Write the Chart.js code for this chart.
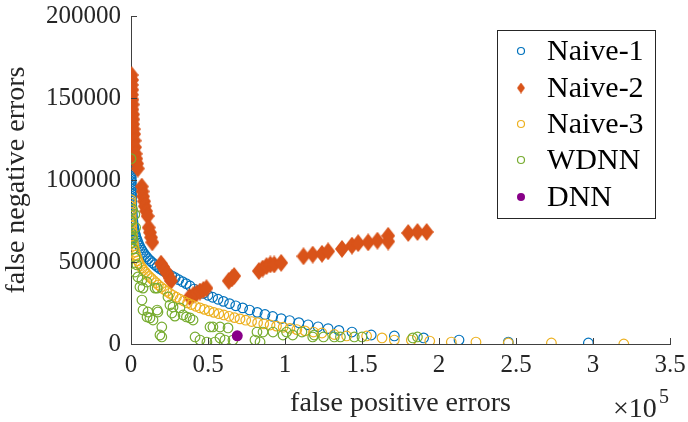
<!DOCTYPE html>
<html>
<head>
<meta charset="utf-8">
<script src="https://cdn.jsdelivr.net/npm/chart.js@4/dist/chart.umd.min.js"></script>
<style>
  html, body { margin: 0; padding: 0; background: #fff; }
  #wrap { width: 688px; height: 422px; position: relative; }
</style>
</head>
<body>
<div id="wrap"><canvas id="chart" width="688" height="422"></canvas></div>
<script>
"use strict";

// Series data: [false positives, false negatives]
const naive1 = [
  [0,114000],[0,112500],[0,111000],[0,109500],[50,108000],[50,106500],[100,105000],[100,103500],
  [150,102000],[150,100500],[200,99000],[200,97500],[250,96000],[300,94500],[300,93000],[350,91500],
  [400,90000],[400,88500],[450,87000],[500,85500],[550,84000],[600,82500],[700,81000],[800,79500],
  [900,78000],[1000,76500],[1200,75000],[1400,73500],[1600,72000],[1900,70500],[2200,69000],
  [2600,67500],[3000,66000],[3500,64500],[4100,63000],[4700,61500],[5400,60000],[6200,58500],
  [7000,57200],[7900,55900],[8900,54600],[10000,53300],[11200,52000],[12500,50800],[13900,49600],
  [15400,48400],[17000,47200],[18700,46000],[20500,44900],[22400,43800],[24400,42700],[26500,41600],
  [28700,40400],[31000,39200],[33400,38000],[35800,36800],[38300,35400],[41000,33500],[44000,32200],
  [47000,30900],[50000,29700],[53000,28500],[56500,27300],[60000,26000],[64000,24600],[68000,23300],
  [72500,22000],[77000,20700],[82000,19300],[87000,18000],[92000,16800],[97500,15500],[103000,14300],
  [109000,13000],[115000,11700],[121500,10500],[128000,9400],[135000,8300],[143500,7300],
  [156000,5500],[171000,4900],[190000,3700],[213000,2400],[245000,1200],[297000,600]
];

const naive2 = [
  [400,164000],[700,161000],[500,158000],[800,155000],[600,152000],[900,149000],[1100,146000],
  [900,143000],[1300,140000],[1500,137000],[1300,134000],[1700,131000],[2000,128000],[2300,124000],
  [2600,120000],[3000,116000],[3400,113000],[3900,110000],[4400,107000],[7000,96000],[7500,93000],
  [7800,90000],[8500,87000],[9000,84000],[9800,81000],[10800,78000],[11500,71000],[12300,68000],
  [13000,65000],[13800,62000],[19500,49000],[20800,47000],[22000,45000],[23500,43000],[25000,40500],
  [26000,38500],[38000,28700],[40500,29800],[42500,30800],[44800,32000],[47000,33000],[49000,34000],
  [63500,38500],[65500,40000],[67000,41500],[83000,44500],[85500,46000],[88000,47500],[90500,48500],
  [93000,48500],[97500,49500],[112000,53500],[118000,54500],[124000,55000],[128000,56500],
  [137000,58000],[143500,60000],[147500,61500],[154000,62000],[160000,63000],[167000,66000],
  [167000,62500],[180000,67700],[186000,68300],[192000,68300]
];

const naive3 = [
  [0,88000],[0,86000],[0,84000],[100,82000],[150,80000],[200,78000],[300,76000],[400,74000],
  [500,72000],[600,70000],[800,68000],[1000,66000],[1200,64000],[1500,62000],[1800,60000],
  [2200,58000],[2700,56000],[3200,54200],[3800,52500],[4500,50800],[5300,49200],[6200,47700],
  [7200,46300],[8200,45000],[9300,43800],[10500,42500],[11800,41200],[13200,40000],[14700,38700],
  [16200,37400],[17800,36000],[19500,34700],[21300,33400],[23200,32100],[25200,30900],[27300,29700],
  [29500,28500],[31800,27300],[34200,26200],[36700,25100],[39300,24000],[42000,23000],[44800,22000],
  [47700,21100],[50700,20200],[53800,19300],[57000,18500],[60300,17700],[63700,16900],[67200,16100],
  [70800,15300],[74500,14500],[78300,13700],[82200,13000],[86200,12300],[90300,11600],[94500,10900],
  [98800,10200],[103200,9500],[107700,8800],[113000,8000],[118500,7300],[124000,6700],[132000,5800],
  [140000,4900],[153000,4900],[163000,3700],[171000,2400],[182000,2400],[194000,1800],[208000,1200],
  [224000,1200],[245000,600],[273000,600],[320000,0]
];

const wdnn = [
  [0,113000],[1000,82000],[2500,79000],[0,67700],[500,65000],[1300,64000],[0,61500],[3000,71000],
  [0,75000],[1500,58000],[2600,52500],[3900,48200],[2600,43900],[4500,40900],[7100,39000],
  [5800,34800],[7800,34100],[10400,37800],[7100,26800],[15600,34100],[17000,34100],[7800,20700],
  [11000,19500],[12300,15900],[14300,14600],[17500,19500],[17000,20700],[10400,16500],[18800,5500],
  [24000,28700],[25300,23800],[27300,22600],[31800,22000],[26600,18900],[28500,17000],[33800,17700],
  [36000,16500],[38300,15900],[40300,14600],[20000,10400],[20000,4300],[41600,4300],[44800,2400],
  [49300,1200],[51300,10400],[53200,10400],[57800,10400],[54500,1200],[57800,3700],[61000,2400],
  [63000,9800],[66200,2400],[80500,2400],[81800,7300],[83800,1200],[85700,7300],[92200,7300],
  [98700,5500],[101000,7300],[105000,5500],[111000,7300],[118000,4300],[119000,5500],[125000,4300],
  [132000,4300],[136000,4300],[145000,4300],[150000,4300],[183000,3700],[186000,4300]
];

const dnn = [[69000,5000]];

const seriesNames = ["Naive-1", "Naive-2", "Naive-3", "WDNN", "DNN"];
const seriesColors = ["#0072BD", "#D95319", "#EDB120", "#77AC30", "#880088"];
const xTicks = [0, 50000, 100000, 150000, 200000, 250000, 300000, 350000];
const yTicks = [0, 50000, 100000, 150000, 200000];

const serif = '"Liberation Serif", "Times New Roman", serif';
const axisColor = "#404040";

function toPoints(list) {
  return list.map((p) => ({ x: p[0], y: p[1] }));
}

// MATLAB-like diamond (taller than wide)
function makeDiamond(w, h, color) {
  const c = document.createElement("canvas");
  c.width = w;
  c.height = h;
  const g = c.getContext("2d");
  g.fillStyle = color;
  g.beginPath();
  g.moveTo(w / 2, 0);
  g.lineTo(w, h / 2);
  g.lineTo(w / 2, h);
  g.lineTo(0, h / 2);
  g.closePath();
  g.fill();
  return c;
}
const diamond = makeDiamond(14, 18, seriesColors[1]);

// Inward tick marks, the x10^5 multiplier and the boxed legend
const matlabBits = {
  id: "matlabBits",
  afterDraw(chart) {
    const ctx = chart.ctx;
    const xs = chart.scales.x;
    const ys = chart.scales.y;
    const area = chart.chartArea;
    ctx.save();
    ctx.strokeStyle = axisColor;
    ctx.lineWidth = 1;
    ctx.beginPath();
    xTicks.forEach((v) => {
      const px = Math.round(xs.getPixelForValue(v)) + 0.5;
      ctx.moveTo(px, area.bottom);
      ctx.lineTo(px, area.bottom - 6);
    });
    yTicks.forEach((v) => {
      const py = Math.round(ys.getPixelForValue(v)) + 0.5;
      ctx.moveTo(area.left, py);
      ctx.lineTo(area.left + 6, py);
    });
    ctx.stroke();

    // exponent label
    ctx.fillStyle = "#262626";
    ctx.font = "28px " + serif;
    ctx.textBaseline = "alphabetic";
    ctx.textAlign = "left";
    ctx.fillText("\u00d710", 613, 417);
    ctx.font = "20px " + serif;
    ctx.fillText("5", 659, 403);

    // legend
    const lx = 497, ly = 30, lw = 158, lh = 188;
    ctx.fillStyle = "#fff";
    ctx.fillRect(lx, ly, lw, lh);
    ctx.strokeStyle = "#262626";
    ctx.strokeRect(lx + 0.5, ly + 0.5, lw, lh);
    const rows = [51, 88, 124, 160, 197];
    seriesNames.forEach((name, i) => {
      const mx = 521, my = rows[i];
      ctx.beginPath();
      if (i === 1) {
        ctx.drawImage(makeDiamond(8, 11, seriesColors[1]), mx - 4, my - 5.5);
      } else if (i === 4) {
        ctx.fillStyle = seriesColors[4];
        ctx.arc(mx, my, 4, 0, Math.PI * 2);
        ctx.fill();
      } else {
        ctx.strokeStyle = seriesColors[i];
        ctx.lineWidth = 1.2;
        ctx.arc(mx, my, 3.5, 0, Math.PI * 2);
        ctx.stroke();
      }
      ctx.fillStyle = "#000";
      ctx.font = "30px " + serif;
      ctx.textBaseline = "middle";
      ctx.fillText(name, 547, my + 1);
    });
    ctx.restore();
  },
};

const circleSet = (i, list, order) => ({
  label: seriesNames[i],
  data: toPoints(list),
  borderColor: seriesColors[i],
  backgroundColor: "rgba(0,0,0,0)",
  pointRadius: 4.8,
  borderWidth: 1.2,
  order: order,
});

const ctx = document.getElementById("chart").getContext("2d");
const chart = new Chart(ctx, {
  type: "scatter",
  data: {
    datasets: [
      circleSet(0, naive1, 5),
      {
        label: seriesNames[1],
        data: toPoints(naive2),
        pointStyle: diamond,
        pointRadius: 7,
        order: 4,
      },
      circleSet(2, naive3, 3),
      circleSet(3, wdnn, 2),
      {
        label: seriesNames[4],
        data: toPoints(dnn),
        borderColor: seriesColors[4],
        backgroundColor: seriesColors[4],
        pointRadius: 5.5,
        borderWidth: 0,
        order: 1,
      },
    ],
  },
  options: {
    responsive: false,
    animation: false,
    layout: { padding: { top: 16, right: 18, left: 0, bottom: 0 } },
    plugins: {
      legend: { display: false },
      tooltip: { enabled: false },
    },
    scales: {
      x: {
        type: "linear",
        min: 0,
        max: 350000,
        afterBuildTicks: (axis) => {
          axis.ticks = xTicks.map((v) => ({ value: v }));
        },
        afterFit: (axis) => {
          axis.height = 78;
          axis.paddingLeft = 0;
          axis.paddingRight = 0;
        },
        grid: { drawOnChartArea: false, drawTicks: false },
        border: { display: true, color: axisColor, width: 1 },
        ticks: {
          padding: 6,
          color: "#262626",
          font: { family: serif, size: 25 },
          maxRotation: 0,
          callback: (v) => String(v / 100000),
        },
        title: {
          display: true,
          text: "false positive errors",
          color: "#262626",
          font: { family: serif, size: 28 },
          padding: { top: 0, bottom: 2 },
        },
      },
      y: {
        type: "linear",
        min: 0,
        max: 200000,
        afterBuildTicks: (axis) => {
          axis.ticks = yTicks.map((v) => ({ value: v }));
        },
        afterFit: (axis) => {
          axis.width = 131;
          axis.paddingTop = 0;
          axis.paddingBottom = 0;
        },
        grid: { drawOnChartArea: false, drawTicks: false },
        border: { display: true, color: axisColor, width: 1 },
        ticks: {
          padding: 10,
          color: "#262626",
          font: { family: serif, size: 25 },
          callback: (v) => String(v),
        },
        title: {
          display: true,
          text: "false negative errors",
          color: "#262626",
          font: { family: serif, size: 28 },
          padding: { top: 0, bottom: 2 },
        },
      },
    },
  },
  plugins: [matlabBits],
});
</script>
</body>
</html>
